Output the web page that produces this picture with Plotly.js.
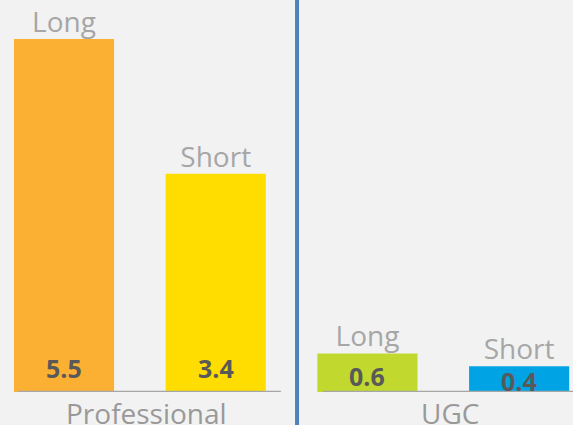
<!DOCTYPE html>
<html><head><meta charset="utf-8">
<script src="https://cdn.plot.ly/plotly-3.0.1.min.js"></script>
<style>html,body{margin:0;padding:0;background:#f2f2f2;}</style>
</head><body>
<div id="chart" style="width:573px;height:425px;"></div>
<script>
var categories = ["Professional", "UGC"];
var seriesLabels = ["Long", "Short", "Long", "Short"];
var values = [5.5, 3.4, 0.6, 0.4];
var valueText = ["5.5", "3.4", "0.6", "0.4"];
var barColors = ["#FBB034", "#FFDD00", "#C1D82F", "#00A4E4"];
var xpos = [0, 1, 2, 3];
var catPos = [0.5, 2.5];

var FONT = "Open Sans, sans-serif";
var valShift = [24, 24, 16, 11];

var bars = {
  type: "bar", x: xpos, y: values, width: 0.66,
  marker: {color: barColors, line: {width: 0}},
  hoverinfo: "none", showlegend: false
};
var topLabels = {
  type: "scatter", mode: "text", x: xpos, y: values, text: seriesLabels,
  textposition: "top center", cliponaxis: false,
  textfont: {family: FONT, size: 28, color: "#A6A6A6"},
  hoverinfo: "none", showlegend: false
};

var annotations = categories.map(function(c, i){
  return {x: catPos[i], y: 0, xref: "x", yref: "y", text: c, showarrow: false,
    yanchor: "top", yshift: 0, xshift: 7, font: {family: FONT, size: 28, color: "#999999"}};
});
valueText.forEach(function(t, i){
  annotations.push({x: xpos[i], y: 0, xref: "x", yref: "y", text: "<b>" + t + "</b>", showarrow: false,
    yanchor: "middle", yshift: valShift[i], font: {family: FONT, size: 25, color: "#595959"}});
});

var layout = {
  width: 573, height: 425,
  margin: {l: 0, r: 0, t: 0, b: 33},
  paper_bgcolor: "#f2f2f2", plot_bgcolor: "#f2f2f2",
  xaxis: {range: [-0.422, 3.355], showgrid: false, zeroline: false, showticklabels: false, ticks: "", fixedrange: true},
  yaxis: {range: [0, 6.106], showgrid: false, zeroline: false, showticklabels: false, ticks: "", fixedrange: true},
  annotations: annotations,
  shapes: [
    {type: "line", xref: "x", yref: "y", x0: -0.303, x1: 1.43, y0: 0, y1: 0, line: {color: "#A6A6A6", width: 2.5}},
    {type: "line", xref: "x", yref: "y", x0: 1.707, x1: 3.4, y0: 0, y1: 0, line: {color: "#A6A6A6", width: 2.5}},
    {type: "line", xref: "x", yref: "paper", x0: 1.536, x1: 1.536, y0: -0.2, y1: 1.05, line: {color: "#4F81BD", width: 4}}
  ]
};

Plotly.newPlot("chart", [bars, topLabels], layout, {displayModeBar: false, staticPlot: true});
</script>
</body></html>
